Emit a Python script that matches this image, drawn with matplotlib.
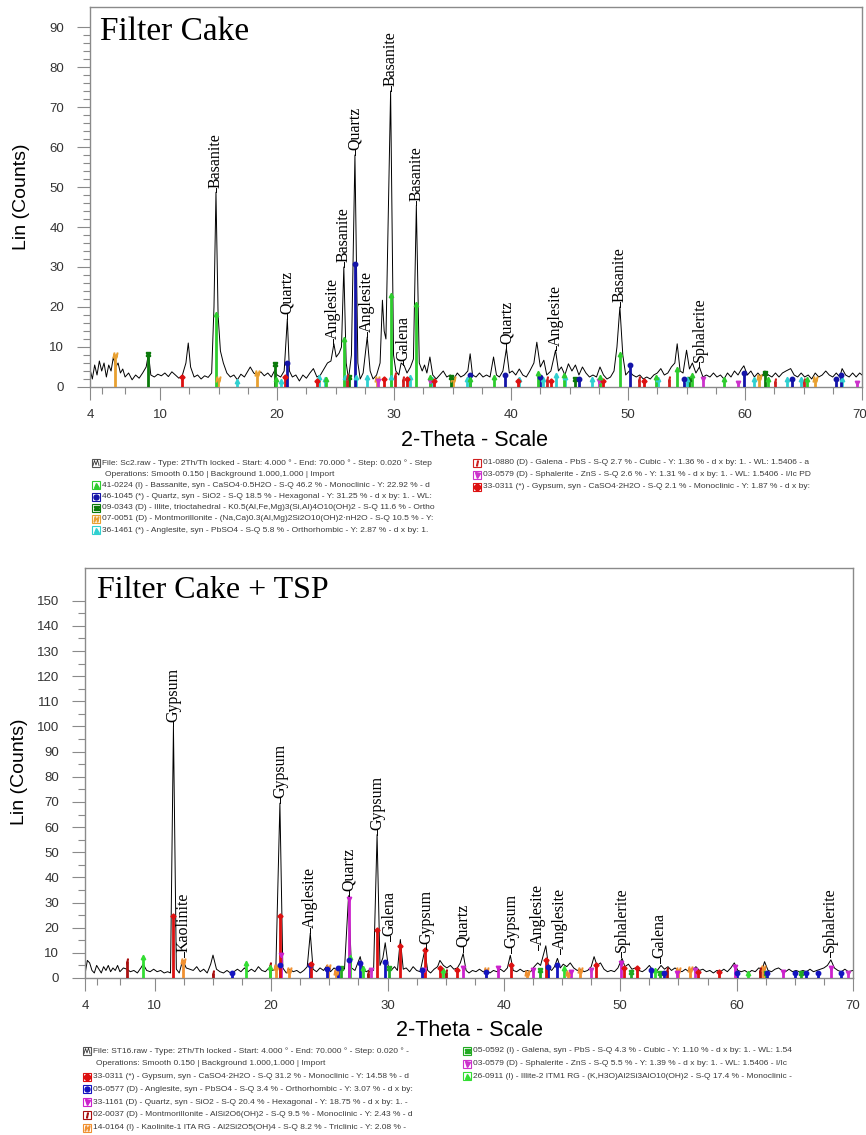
import matplotlib
matplotlib.use('Agg')
import matplotlib.pyplot as plt
from matplotlib.lines import Line2D
from matplotlib.patches import Rectangle
from matplotlib.ticker import MultipleLocator, FixedLocator
import matplotlib.transforms as mtransforms

W, H = 866, 1135

# ---------------- DATA : Filter Cake (top) ----------------
fc_x = [4.0, 4.2, 4.4, 4.6, 4.8, 5.0, 5.2, 5.4, 5.6, 5.8, 6.0, 6.2, 6.4, 6.6, 6.8, 7.0, 7.3, 7.6, 7.9, 8.2,
        8.5, 8.8, 9.0, 9.2, 9.5, 9.8, 10.1, 10.4, 10.7, 11.0, 11.3, 11.6, 11.9, 12.2, 12.4, 12.6, 12.9, 13.2,
        13.5, 13.8, 14.1, 14.4, 14.6, 14.77, 14.95, 15.15, 15.4, 15.7, 16.0, 16.3, 16.6, 16.9, 17.2, 17.5,
        17.7, 18.0, 18.3, 18.6, 18.9, 19.2, 19.5, 19.8, 20.0, 20.3, 20.6, 20.87, 21.05, 21.3, 21.6, 21.9,
        22.2, 22.5, 22.8, 23.1, 23.4, 23.7, 24.0, 24.3, 24.6, 24.85, 25.05, 25.3, 25.5, 25.7, 25.9, 26.1,
        26.35, 26.65, 26.9, 27.1, 27.35, 27.7, 27.95, 28.2, 28.5, 28.8, 29.0, 29.15, 29.3, 29.7, 29.95,
        30.15, 30.4, 30.6, 30.85, 31.1, 31.4, 31.65, 31.9, 32.15, 32.4, 32.6, 32.8, 33.06, 33.3, 33.6, 33.9,
        34.2, 34.5, 34.8, 35.1, 35.4, 35.7, 36.0, 36.3, 36.5, 36.7, 37.0, 37.3, 37.6, 37.9, 38.2, 38.5,
        38.75, 39.0, 39.3, 39.6, 39.85, 40.1, 40.4, 40.7, 41.0, 41.3, 41.6, 41.95, 42.2, 42.5, 42.8, 43.05,
        43.4, 43.8, 44.05, 44.3, 44.6, 44.9, 45.2, 45.5, 45.8, 46.1, 46.4, 46.7, 47.0, 47.3, 47.6, 47.9,
        48.2, 48.5, 48.8, 49.05, 49.3, 49.55, 49.8, 50.1, 50.4, 50.7, 51.0, 51.3, 51.6, 51.9, 52.2, 52.5,
        52.8, 53.1, 53.4, 53.7, 54.0, 54.2, 54.45, 54.7, 55.0, 55.25, 55.5, 55.8, 56.1, 56.4, 56.7, 57.0,
        57.3, 57.6, 57.9, 58.2, 58.5, 58.8, 59.1, 59.4, 59.7, 59.9, 60.2, 60.5, 60.8, 61.1, 61.4, 61.7,
        62.0, 62.3, 62.6, 62.9, 63.2, 63.5, 63.9, 64.2, 64.5, 64.8, 65.1, 65.4, 65.7, 66.0, 66.3, 66.6,
        66.9, 67.2, 67.5, 67.8, 68.1, 68.3, 68.6, 68.9, 69.2, 69.5, 69.8, 70.0]
fc_y = [4.5, 2.0, 5.5, 3.0, 6.5, 4.0, 6.0, 2.5, 5.5, 4.0, 7.5, 5.0, 6.0, 3.5, 4.5, 2.5, 3.5, 1.8, 3.0, 2.2,
        3.5, 5.0, 8.3, 3.0, 2.5, 3.2, 2.8, 3.5, 2.6, 3.8, 3.0, 2.2, 3.0, 6.0, 11.0, 5.0, 2.5, 3.0,
        2.0, 2.8, 2.4, 3.5, 20.0, 48.7, 18.0, 9.0, 6.0, 3.5, 2.5, 3.0, 1.8, 3.2, 2.5, 4.0,
        5.0, 3.5, 3.0, 3.8, 2.8, 3.5, 2.5, 4.2, 3.0, 2.5, 4.0, 17.0, 4.0, 2.5, 3.0, 1.5,
        3.0, 2.2, 3.5, 4.6, 2.5, 3.0, 4.5, 6.0, 6.5, 10.8, 7.5, 8.5, 10.0, 30.0, 6.0, 2.0,
        8.0, 58.0, 6.0, 2.0, 3.5, 12.5, 4.0, 2.0, 3.0, 6.0, 21.7, 14.0, 12.0, 74.0, 8.0,
        4.0, 3.0, 6.0, 5.4, 3.5, 5.0, 7.0, 45.4, 6.0, 4.0, 5.5, 3.5, 7.5, 3.0, 2.0, 3.0,
        4.0, 2.5, 3.0, 2.0, 3.5, 2.5, 3.0, 4.0, 8.3, 3.0, 2.5, 3.5, 2.5, 3.0, 2.5, 7.5,
        3.0, 2.5, 4.0, 9.6, 3.5, 4.0, 3.0, 4.5, 3.0, 2.5, 4.0, 6.0, 11.2, 5.0, 6.7, 3.0,
        4.0, 9.2, 4.0, 5.0, 3.0, 5.8, 4.0, 5.5, 3.0, 5.0, 3.5, 2.5, 3.0, 2.5, 5.0, 3.0,
        2.0, 2.5, 4.0, 10.0, 20.0, 8.0, 3.0, 4.0, 3.0, 2.5, 3.0, 2.0, 2.5, 2.0, 3.0, 3.5,
        4.6, 3.0, 3.5, 5.0, 6.0, 10.8, 4.0, 3.5, 9.2, 4.5, 6.0, 3.5, 5.0, 2.5, 3.0, 2.5,
        3.5, 2.5, 3.0, 2.0, 3.5, 2.5, 4.0, 3.0, 4.5, 5.3, 3.0, 4.0, 2.5, 3.5, 2.5, 4.0,
        3.0, 2.5, 3.5, 2.5, 3.5, 4.0, 4.6, 3.0, 2.5, 3.5, 2.5, 3.0, 2.0, 3.5, 2.5, 3.0,
        4.0, 3.0, 2.5, 3.5, 2.5, 4.6, 3.0, 2.5, 3.5, 2.5, 3.5, 3.0]

fc_label_text = ['Basanite', 'Quartz', 'Anglesite', 'Basanite', 'Quartz', 'Anglesite', 'Basanite',
                 'Galena', 'Basanite', 'Quartz', 'Anglesite', 'Basanite', 'Sphalerite']
fc_label_x = [14.77, 20.87, 24.8, 25.7, 26.65, 27.7, 29.7, 30.8, 31.9, 39.6, 43.8, 49.3, 56.1]
fc_label_y = [48.7, 17.0, 10.8, 30.0, 58.0, 12.5, 74.0, 5.4, 45.4, 9.6, 9.2, 20.0, 5.0]

# reference sticks (Filter Cake)
fc_bas_x = [14.77, 25.7, 29.7, 31.9, 49.3, 42.3, 38.5, 54.2, 47.6, 55.5, 62.0, 33.1, 36.5, 44.5, 58.2, 19.9, 24.2, 52.4, 65.3]
fc_bas_h = [18.3, 12.0, 23.0, 20.8, 8.3, 3.5, 2.5, 4.5, 2.5, 3.0, 2.0, 2.5, 2.0, 3.0, 2.0, 2.0, 2.0, 2.5, 2.0]
fc_qtz_x = [26.65, 20.87, 50.2, 36.5, 39.5, 42.5, 59.9, 68.2, 54.8, 45.8, 64.0, 67.8]
fc_qtz_h = [30.8, 6.0, 5.4, 3.0, 3.0, 2.5, 3.5, 3.0, 2.0, 2.0, 2.0, 2.0]
fc_ill_x = [9.0, 19.8, 26.1, 34.9, 45.5, 61.7, 55.2]
fc_ill_h = [8.3, 5.8, 2.5, 2.5, 2.0, 3.5, 2.0]
fc_mon_x = [6.1, 14.95, 18.3, 28.5, 35.0, 61.2, 66.0]
fc_mon_h = [8.0, 2.0, 3.5, 2.0, 2.0, 2.5, 2.0]
fc_ang_x = [16.6, 20.3, 23.6, 24.1, 25.8, 26.7, 27.7, 29.7, 31.4, 33.2, 36.2, 40.7, 42.7, 43.8, 44.6, 46.9,
            52.6, 55.0, 60.8, 63.6, 64.8, 68.3]
fc_ang_h = [1.5, 1.5, 2.5, 2.0, 2.5, 2.5, 2.5, 2.5, 2.5, 2.0, 2.0, 2.0, 2.0, 3.0, 2.5, 2.0,
            2.0, 2.0, 2.0, 2.0, 2.0, 2.0]
fc_gal_x = [26.0, 30.1, 30.8, 43.1, 50.9, 53.5, 62.6, 65.0]
fc_gal_h = [2.5, 3.0, 2.0, 2.0, 2.0, 2.0, 1.5, 1.5]
fc_sph_x = [28.6, 33.1, 47.5, 56.4, 59.4, 69.6]
fc_sph_h = [1.5, 1.5, 1.5, 2.0, 1.0, 1.0]
fc_gyp_x = [11.9, 20.7, 23.4, 29.1, 31.1, 33.4, 40.6, 43.4, 47.9, 51.4]
fc_gyp_h = [2.5, 2.5, 1.5, 2.0, 2.0, 1.5, 1.5, 1.5, 1.5, 1.5]

fc_legend_left = [
    "File: Sc2.raw - Type: 2Th/Th locked - Start: 4.000 \u00b0 - End: 70.000 \u00b0 - Step: 0.020 \u00b0 - Step",
    "Operations: Smooth 0.150 | Background 1.000,1.000 | Import",
    "41-0224 (I) - Bassanite, syn - CaSO4\u00b70.5H2O - S-Q 46.2 % - Monoclinic - Y: 22.92 % - d",
    "46-1045 (*) - Quartz, syn - SiO2 - S-Q 18.5 % - Hexagonal - Y: 31.25 % - d x by: 1. - WL:",
    "09-0343 (D) - Illite, trioctahedral - K0.5(Al,Fe,Mg)3(Si,Al)4O10(OH)2 - S-Q 11.6 % - Ortho",
    "07-0051 (D) - Montmorillonite - (Na,Ca)0.3(Al,Mg)2Si2O10(OH)2\u00b7nH2O - S-Q 10.5 % - Y:",
    "36-1461 (*) - Anglesite, syn - PbSO4 - S-Q 5.8 % - Orthorhombic - Y: 2.87 % - d x by: 1.",
]
fc_legend_right = [
    "01-0880 (D) - Galena - PbS - S-Q 2.7 % - Cubic - Y: 1.36 % - d x by: 1. - WL: 1.5406 - a",
    "03-0579 (D) - Sphalerite - ZnS - S-Q 2.6 % - Y: 1.31 % - d x by: 1. - WL: 1.5406 - I/Ic PD",
    "33-0311 (*) - Gypsum, syn - CaSO4\u00b72H2O - S-Q 2.1 % - Monoclinic - Y: 1.87 % - d x by:",
]

# ---------------- DATA : Filter Cake + TSP (bottom) ----------------
ts_x = [4.0, 4.2, 4.4, 4.6, 4.8, 5.0, 5.2, 5.4, 5.6, 5.8, 6.0, 6.2, 6.4, 6.6, 6.8, 7.0, 7.3, 7.6, 7.9, 8.2,
        8.5, 8.8, 9.0, 9.3, 9.6, 9.9, 10.2, 10.5, 10.8, 11.1, 11.35, 11.6, 11.85, 12.1, 12.4, 12.7, 13.0,
        13.3, 13.6, 13.9, 14.2, 14.5, 14.8, 15.0, 15.3, 15.6, 15.9, 16.2, 16.5, 16.8, 17.1, 17.4, 17.7,
        18.0, 18.3, 18.6, 18.9, 19.2, 19.5, 19.8, 20.1, 20.4, 20.75, 21.0, 21.3, 21.6, 21.9, 22.2, 22.5,
        22.8, 23.1, 23.36, 23.6, 23.9, 24.2, 24.5, 24.8, 25.1, 25.4, 25.7, 26.0, 26.3, 26.65, 26.9, 27.2,
        27.65, 27.9, 28.2, 28.5, 28.8, 29.1, 29.35, 29.6, 29.8, 30.05, 30.3, 30.6, 30.85, 31.1, 31.35,
        31.6, 31.9, 32.2, 32.5, 32.8, 33.2, 33.45, 33.7, 34.0, 34.3, 34.5, 34.8, 35.1, 35.4, 35.7, 36.0,
        36.25, 36.5, 36.75, 37.0, 37.3, 37.6, 37.9, 38.2, 38.5, 38.8, 39.1, 39.4, 39.7, 40.0, 40.3, 40.55,
        40.8, 41.1, 41.4, 41.7, 42.0, 42.3, 42.6, 42.9, 43.15, 43.6, 43.85, 44.1, 44.35, 44.6, 44.85, 45.1,
        45.4, 45.7, 46.0, 46.3, 46.6, 46.9, 47.2, 47.5, 47.75, 48.0, 48.3, 48.6, 48.9, 49.2, 49.5, 49.8,
        50.15, 50.4, 50.7, 51.0, 51.3, 51.6, 51.9, 52.2, 52.5, 52.8, 53.1, 53.5, 53.8, 54.1, 54.4, 54.7,
        55.0, 55.3, 55.6, 55.9, 56.2, 56.5, 56.8, 57.1, 57.4, 57.7, 58.0, 58.3, 58.6, 58.9, 59.2, 59.5,
        59.8, 60.1, 60.4, 60.7, 61.0, 61.3, 61.6, 61.9, 62.2, 62.4, 62.7, 63.0, 63.3, 63.6, 63.9, 64.2,
        64.5, 64.8, 65.1, 65.4, 65.7, 66.0, 66.3, 66.6, 66.9, 67.2, 67.5, 67.8, 68.1, 68.4, 68.7, 69.0,
        69.3, 69.6, 70.0]
ts_y = [1.5, 7.0, 6.0, 3.0, 2.0, 5.0, 3.5, 2.0, 4.5, 3.0, 5.0, 2.5, 4.0, 3.0, 5.0, 2.5, 4.0, 3.5, 2.5, 3.0,
        2.0, 4.0, 5.5, 3.0, 2.5, 3.5, 2.5, 3.0, 2.0, 2.5, 2.0, 100.0, 3.5, 2.0, 7.2, 4.0, 3.5,
        3.0, 4.5, 2.5, 3.5, 2.0, 5.5, 9.1, 3.5, 2.5, 2.0, 3.0, 2.0, 2.5, 3.5, 2.5, 4.0,
        2.5, 3.5, 2.5, 4.5, 3.0, 2.5, 4.0, 3.0, 3.5, 69.5, 4.0, 2.0, 3.5, 2.5, 3.0, 2.0,
        3.0, 4.5, 17.8, 3.5, 2.5, 4.0, 3.0, 5.0, 2.5, 4.0, 3.0, 4.5, 3.5, 32.7, 4.0, 3.0,
        8.5, 3.0, 2.5, 3.5, 3.0, 57.0, 5.0, 8.0, 14.0, 5.0, 3.0, 4.5, 3.0, 15.3, 3.5,
        4.0, 2.5, 4.5, 3.0, 2.5, 11.0, 3.0, 2.0, 3.5, 4.5, 7.0, 5.0, 4.0, 5.0, 3.5, 4.0,
        6.0, 9.7, 3.0, 2.0, 3.0, 2.5, 3.5, 2.5, 3.0, 2.0, 3.0, 2.5, 3.5, 2.5, 4.0, 9.0,
        3.0, 2.5, 3.5, 2.5, 3.0, 2.5, 4.5, 6.0, 5.0, 12.8, 4.0, 3.0, 4.5, 7.8, 4.0, 5.5,
        4.5, 6.0, 4.0, 3.0, 3.5, 2.5, 3.0, 4.5, 8.5, 5.0, 6.0, 3.5, 2.5, 3.0, 2.5, 4.0,
        7.8, 4.5, 5.5, 3.5, 4.0, 3.0, 2.5, 3.5, 5.0, 3.0, 2.5, 5.0, 3.5, 4.5, 3.0, 4.0,
        3.0, 2.5, 3.5, 2.5, 3.0, 4.5, 3.0, 3.5, 2.5, 3.0, 2.0, 3.0, 2.5, 3.5, 2.5, 4.0,
        6.0, 3.0, 2.5, 3.0, 2.0, 3.0, 2.5, 4.0, 3.5, 6.5, 3.0, 2.5, 3.5, 4.0, 3.0, 2.5,
        3.5, 2.5, 3.0, 2.5, 3.0, 2.5, 3.5, 2.5, 3.0, 3.5, 4.0, 5.0, 7.2, 4.0, 3.0, 2.5,
        3.5, 2.5, 3.0]

ts_label_text = ['Gypsum', 'Kaolinite', 'Gypsum', 'Anglesite', 'Quartz', 'Gypsum', 'Galena', 'Gypsum',
                 'Quartz', 'Gypsum', 'Anglesite', 'Anglesite', 'Sphalerite', 'Galena', 'Sphalerite']
ts_label_x = [11.6, 12.5, 20.75, 23.36, 26.65, 29.1, 30.2, 33.3, 36.5, 40.6, 42.9, 44.8, 50.1, 53.4, 68.0]
ts_label_y = [100.0, 8.5, 69.5, 17.8, 32.7, 57.0, 14.7, 11.5, 10.5, 10.0, 11.0, 9.7, 8.5, 6.0, 8.5]

ts_gyp_x = [11.6, 20.75, 23.4, 29.1, 31.1, 33.2, 43.6, 40.6, 36.0, 34.5, 47.9, 50.3, 51.4, 56.7, 58.5]
ts_gyp_h = [24.7, 24.7, 5.5, 19.0, 12.8, 11.0, 7.0, 5.0, 3.0, 4.0, 5.0, 4.0, 4.0, 2.5, 2.5]
ts_ang_x = [16.6, 20.8, 23.3, 24.8, 25.7, 26.7, 27.65, 29.8, 33.0, 38.5, 43.8, 44.6, 52.6, 53.8, 60.0,
            62.6, 65.0, 66.0, 67.0, 69.0]
ts_ang_h = [2.0, 5.0, 5.0, 3.5, 4.0, 7.0, 6.0, 6.5, 3.0, 2.5, 4.5, 5.0, 3.0, 2.0, 2.0,
            2.0, 2.0, 2.0, 2.0, 2.0]
ts_qtz_x = [26.65, 20.85, 36.5, 39.5, 42.5, 45.8, 50.1, 54.9, 59.9, 64.0, 68.1]
ts_qtz_h = [31.5, 9.0, 4.0, 4.0, 3.0, 2.5, 6.0, 2.0, 4.5, 2.5, 4.0]
ts_mon_x = [7.6, 15.0, 19.9, 28.3, 35.0, 54.0, 62.0]
ts_mon_h = [6.6, 2.0, 5.0, 2.0, 2.5, 3.0, 3.0]
ts_kao_x = [12.4, 20.4, 21.5, 24.9, 25.6, 38.5, 42.0, 45.5, 46.5, 55.0, 56.0, 62.3]
ts_kao_h = [6.6, 4.5, 3.0, 4.5, 2.5, 3.0, 2.0, 2.0, 3.0, 3.0, 3.5, 4.0]
ts_gal_x = [26.0, 30.1, 43.1, 50.9, 53.4, 62.5, 65.5]
ts_gal_h = [4.0, 4.0, 3.0, 2.5, 2.0, 2.0, 2.0]
ts_sph_x = [28.6, 33.1, 47.5, 56.4, 69.6]
ts_sph_h = [3.0, 3.0, 3.0, 3.0, 2.0]
ts_ill_x = [9.0, 17.8, 19.9, 26.8, 27.9, 34.8, 45.2, 53.0, 61.0]
ts_ill_h = [8.5, 6.0, 4.5, 8.5, 4.0, 3.0, 4.0, 3.0, 2.0]

ts_legend_left = [
    "File: ST16.raw - Type: 2Th/Th locked - Start: 4.000 \u00b0 - End: 70.000 \u00b0 - Step: 0.020 \u00b0 -",
    "Operations: Smooth 0.150 | Background 1.000,1.000 | Import",
    "33-0311 (*) - Gypsum, syn - CaSO4\u00b72H2O - S-Q 31.2 % - Monoclinic - Y: 14.58 % - d",
    "05-0577 (D) - Anglesite, syn - PbSO4 - S-Q 3.4 % - Orthorhombic - Y: 3.07 % - d x by:",
    "33-1161 (D) - Quartz, syn - SiO2 - S-Q 20.4 % - Hexagonal - Y: 18.75 % - d x by: 1. -",
    "02-0037 (D) - Montmorillonite - AlSi2O6(OH)2 - S-Q 9.5 % - Monoclinic - Y: 2.43 % - d",
    "14-0164 (I) - Kaolinite-1 ITA RG - Al2Si2O5(OH)4 - S-Q 8.2 % - Triclinic - Y: 2.08 % -",
]
ts_legend_right = [
    "05-0592 (I) - Galena, syn - PbS - S-Q 4.3 % - Cubic - Y: 1.10 % - d x by: 1. - WL: 1.54",
    "03-0579 (D) - Sphalerite - ZnS - S-Q 5.5 % - Y: 1.39 % - d x by: 1. - WL: 1.5406 - I/Ic",
    "26-0911 (I) - Illite-2 ITM1 RG - (K,H3O)Al2Si3AlO10(OH)2 - S-Q 17.4 % - Monoclinic -",
]

# ---------------- STYLE ----------------
SANS = ['Liberation Sans', 'DejaVu Sans']
SERIF = ['Liberation Serif', 'DejaVu Serif']
GRAY = '#8a8a8a'
TXT = '#333333'

C_BAS = '#2ecc2e'; C_QTZ = '#1414a8'; C_ILL = '#0b7a0b'; C_MON = '#e8a030'
C_ANG = '#30d0d0'; C_GAL = '#d02020'; C_SPH = '#cc33cc'; C_GYP = '#dd1111'
C2_GYP = '#dd1111'; C2_ANG = '#1414c0'; C2_QTZ = '#cc22cc'; C2_MON = '#a81010'
C2_KAO = '#f09030'; C2_GAL = '#22aa22'; C2_SPH = '#cc33cc'; C2_ILL = '#33dd33'

fig = plt.figure(figsize=(W / 100, H / 100), dpi=100)


def fx(px):
    return px / W


def fy(py):
    return 1 - py / H


def style_axes(ax, ymax, ytop_tick, ymajor, yminor):
    ax.set_xlim(4, 70)
    ax.set_ylim(0, ymax)
    for s in ax.spines.values():
        s.set_color(GRAY)
        s.set_linewidth(1.0)
    ax.yaxis.set_major_locator(FixedLocator(list(range(0, ytop_tick + 1, ymajor))))
    ax.yaxis.set_minor_locator(FixedLocator([v * yminor for v in range(int(ytop_tick / yminor) + 1)]))
    ax.xaxis.set_major_locator(FixedLocator([4, 10, 20, 30, 40, 50, 60, 70]))
    ax.xaxis.set_minor_locator(FixedLocator([5, 7, 12.5, 15, 17.5, 22.5, 25, 27.5, 32.5, 35, 37.5, 42.5, 45,
                                             47.5, 52.5, 55, 57.5, 62.5, 65, 67.5]))
    ax.tick_params(axis='both', which='major', direction='out', length=9.5, width=0.8, color=GRAY,
                   labelsize=9.5, labelcolor=TXT)
    ax.tick_params(axis='y', which='major', pad=9)
    ax.tick_params(axis='x', which='major', pad=6)
    ax.tick_params(axis='both', which='minor', direction='out', length=5, width=0.8, color=GRAY)
    for lab in ax.get_xticklabels() + ax.get_yticklabels():
        lab.set_family(SANS)


def sticks(ax, xs, hs, color, marker, ms=3.2):
    ax.vlines(xs, 0, hs, colors=color, linewidth=2.0, zorder=3)
    ax.plot(xs, hs, linestyle='none', marker=marker, color=color, markersize=ms, zorder=4)


def peak_labels(ax, texts, xs, ys, ymax):
    for t, x, y in zip(texts, xs, ys):
        gap = ymax * 0.012
        ax.plot([x, x], [y, y + gap], color='black', linewidth=0.7, zorder=5)
        ax.text(x, y + gap, t, rotation=90, ha='center', va='bottom', fontsize=11.5,
                family=SERIF, color='black', zorder=6)


def legend_icon(x, y, color, marker, kind='phase'):
    s = 8
    fig.add_artist(Rectangle((fx(x), fy(y + s / 2)), s / W, s / H, transform=fig.transFigure,
                             facecolor='white', edgecolor=color, linewidth=0.8))
    if kind == 'file':
        fig.add_artist(Line2D([fx(x + 1), fx(x + 2.5), fx(x + 4), fx(x + 5.5), fx(x + 7)],
                              [fy(y + 2.5), fy(y - 2.5), fy(y + 2), fy(y - 3), fy(y + 2.5)],
                              transform=fig.transFigure, color='#333333', linewidth=0.6))
    else:
        fig.add_artist(Line2D([fx(x + s / 2)], [fy(y)], transform=fig.transFigure, marker=marker,
                              color=color, markersize=3.6, linestyle='none'))


def legend_block(x_icon, y0, dy, lines, icons):
    for i, (txt, ic) in enumerate(zip(lines, icons)):
        y = y0 + i * dy
        if ic is None:
            fig.text(fx(x_icon + 13), fy(y), txt, fontsize=6, family=SANS, color='#3a3a3a',
                     ha='left', va='center')
        else:
            color, marker, kind = ic
            legend_icon(x_icon, y, color, marker, kind)
            fig.text(fx(x_icon + 10), fy(y), txt, fontsize=6, family=SANS, color='#3a3a3a',
                     ha='left', va='center')


# ---------------- TOP PANEL ----------------
ax1 = fig.add_axes([fx(90), fy(387), 772 / W, 380 / H])
style_axes(ax1, 95, 90, 10, 2)
last = ax1.get_xticklabels()[-1]
last.set_horizontalalignment('right')
last.set_transform(last.get_transform() + mtransforms.ScaledTranslation(4 / 72, 0, fig.dpi_scale_trans))
ax1.plot(fc_x, fc_y, color='black', linewidth=0.7, zorder=2)
sticks(ax1, fc_mon_x, fc_mon_h, C_MON, '$H$', 3.5)
sticks(ax1, fc_ill_x, fc_ill_h, C_ILL, '$\\equiv$', 3.5)
sticks(ax1, fc_ang_x, fc_ang_h, C_ANG, '^')
sticks(ax1, fc_gal_x, fc_gal_h, C_GAL, '$I$', 3.5)
sticks(ax1, fc_sph_x, fc_sph_h, C_SPH, 'v')
sticks(ax1, fc_gyp_x, fc_gyp_h, C_GYP, 'D', 2.6)
sticks(ax1, fc_qtz_x, fc_qtz_h, C_QTZ, 'o')
sticks(ax1, fc_bas_x, fc_bas_h, C_BAS, '^')
peak_labels(ax1, fc_label_text, fc_label_x, fc_label_y, 95)
ax1.text(0.013, 0.935, 'Filter Cake', transform=ax1.transAxes, fontsize=24, family=SERIF,
         ha='left', va='center', color='black')

fig.text(fx(22), fy(197), 'Lin (Counts)', rotation=90, ha='center', va='center', fontsize=14,
         family=SANS, color='black')
fig.text(fx(474), fy(440), '2-Theta - Scale', ha='center', va='center', fontsize=15.5,
         family=SANS, color='black')

legend_block(92, 463, 11.2, fc_legend_left,
             [('#555555', None, 'file'), None, (C_BAS, '^', 'phase'), (C_QTZ, 'o', 'phase'),
              (C_ILL, '$\\equiv$', 'phase'), (C_MON, '$H$', 'phase'), (C_ANG, '^', 'phase')])
legend_block(473, 463, 12.0, fc_legend_right,
             [(C_GAL, '$I$', 'phase'), (C_SPH, 'v', 'phase'), (C_GYP, 'D', 'phase')])

# ---------------- BOTTOM PANEL ----------------
ax2 = fig.add_axes([fx(85), fy(978), 768 / W, 410 / H])
style_axes(ax2, 163, 150, 10, 5)
ax2.plot(ts_x, ts_y, color='black', linewidth=0.7, zorder=2)
sticks(ax2, ts_kao_x, ts_kao_h, C2_KAO, '$H$', 3.5)
sticks(ax2, ts_mon_x, ts_mon_h, C2_MON, '$I$', 3.5)
sticks(ax2, ts_ill_x, ts_ill_h, C2_ILL, '^')
sticks(ax2, ts_gal_x, ts_gal_h, C2_GAL, '$\\equiv$', 3.5)
sticks(ax2, ts_sph_x, ts_sph_h, C2_SPH, 'v')
sticks(ax2, ts_ang_x, ts_ang_h, C2_ANG, 'o')
sticks(ax2, ts_qtz_x, ts_qtz_h, C2_QTZ, 'v')
sticks(ax2, ts_gyp_x, ts_gyp_h, C2_GYP, 'D', 2.6)
peak_labels(ax2, ts_label_text, ts_label_x, ts_label_y, 163)
ax2.text(0.015, 0.945, 'Filter Cake + TSP', transform=ax2.transAxes, fontsize=23, family=SERIF,
         ha='left', va='center', color='black')

fig.text(fx(20), fy(772), 'Lin (Counts)', rotation=90, ha='center', va='center', fontsize=14,
         family=SANS, color='black')
fig.text(fx(470), fy(1030), '2-Theta - Scale', ha='center', va='center', fontsize=15.5,
         family=SANS, color='black')

legend_block(83, 1051, 12.8, ts_legend_left,
             [('#555555', None, 'file'), None, (C2_GYP, 'D', 'phase'), (C2_ANG, 'o', 'phase'),
              (C2_QTZ, 'v', 'phase'), (C2_MON, '$I$', 'phase'), (C2_KAO, '$H$', 'phase')])
legend_block(463, 1051, 12.5, ts_legend_right,
             [(C2_GAL, '$\\equiv$', 'phase'), (C2_SPH, 'v', 'phase'), (C2_ILL, '^', 'phase')])

fig.savefig('out.png', dpi=100, facecolor='white')
